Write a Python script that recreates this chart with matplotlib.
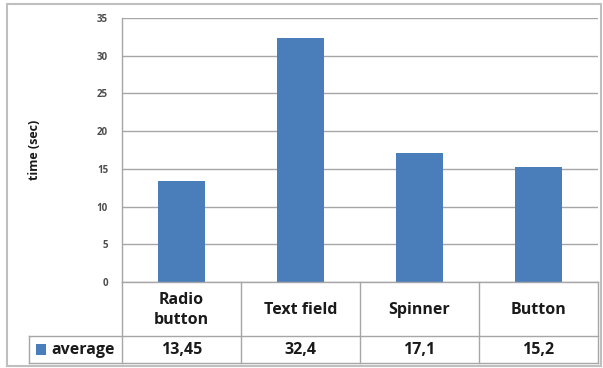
import matplotlib
matplotlib.use("Agg")
import matplotlib.pyplot as plt
from matplotlib.lines import Line2D
from matplotlib.patches import Rectangle

categories = ["Radio\nbutton", "Text field", "Spinner", "Button"]
values = [13.45, 32.4, 17.1, 15.2]
series_name = "average"
yticks = [0, 5, 10, 15, 20, 25, 30, 35]

W, H = 603, 368
fig = plt.figure(figsize=(W / 100, H / 100), dpi=100)
fig.patch.set_facecolor("white")

def fx(px):
    return px / W

def fy(py):
    return 1 - py / H

left_px, right_px, top_px, bottom_px = 122, 598, 18, 282
ax = fig.add_axes([fx(left_px), fy(bottom_px), fx(right_px - left_px), fy(top_px) - fy(bottom_px)])

bar_color = "#4a7ebb"
grid_color = "#a6a6a6"
font = "Open Sans"
text_color = "#1a1a1a"

x = list(range(len(categories)))
ax.bar(x, values, width=0.4, color=bar_color, zorder=3)
ax.set_xlim(-0.5, len(categories) - 0.5)
ax.set_ylim(0, 35)
ax.set_yticks(yticks)
ax.set_yticklabels([str(t) for t in yticks], fontsize=7, color="#4d4d4d",
                   fontweight="bold", family=font)
ax.tick_params(axis="y", length=0, pad=10)
ax.tick_params(axis="x", length=0, labelbottom=False)
ax.grid(axis="y", color=grid_color, linewidth=1, zorder=0)
for s in ["top", "right", "bottom"]:
    ax.spines[s].set_visible(False)
ax.spines["left"].set_color(grid_color)
ax.spines["left"].set_linewidth(1)

fig.text(fx(35), fy(150), "time (sec)", rotation=90, ha="center", va="center",
         fontsize=9, fontweight="bold", family=font, color=text_color)

# data table under the plot
row1_bottom = 336
row2_bottom = 363
legend_left = 29
col_edges = [left_px + i * (right_px - left_px) / len(categories) for i in range(len(categories) + 1)]
lines = [
    ((left_px, right_px), (bottom_px, bottom_px)),
    ((legend_left, right_px), (row1_bottom, row1_bottom)),
    ((legend_left, right_px), (row2_bottom, row2_bottom)),
    ((legend_left, legend_left), (row1_bottom, row2_bottom)),
    ((left_px, left_px), (bottom_px, row2_bottom)),
]
for cx in col_edges[1:]:
    lines.append(((cx, cx), (bottom_px, row2_bottom)))
for (xs, ys) in lines:
    fig.add_artist(Line2D([fx(v) for v in xs], [fy(v) for v in ys],
                          color=grid_color, linewidth=1))

label_size = 11.5
for i, (cat, val) in enumerate(zip(categories, values)):
    cx = (col_edges[i] + col_edges[i + 1]) / 2
    fig.text(fx(cx), fy((bottom_px + row1_bottom) / 2 + 1), cat, ha="center", va="center",
             fontsize=label_size, fontweight="bold", family=font, color=text_color,
             linespacing=1.35)
    fig.text(fx(cx), fy((row1_bottom + row2_bottom) / 2), f"{val:g}".replace(".", ","),
             ha="center", va="center", fontsize=label_size, fontweight="bold", family=font,
             color=text_color)

fig.add_artist(Rectangle((fx(36), fy(355)), fx(10), fy(344) - fy(355),
                         facecolor=bar_color, edgecolor="none"))
fig.text(fx(51), fy((row1_bottom + row2_bottom) / 2), series_name, ha="left", va="center",
         fontsize=label_size, fontweight="bold", family=font, color=text_color)

# outer chart frame
fig.add_artist(Rectangle((fx(7), fy(366)), fx(601 - 7), fy(4) - fy(366),
                         facecolor="none", edgecolor="#bfbfbf", linewidth=1.5))

fig.savefig("out.png", dpi=100)
